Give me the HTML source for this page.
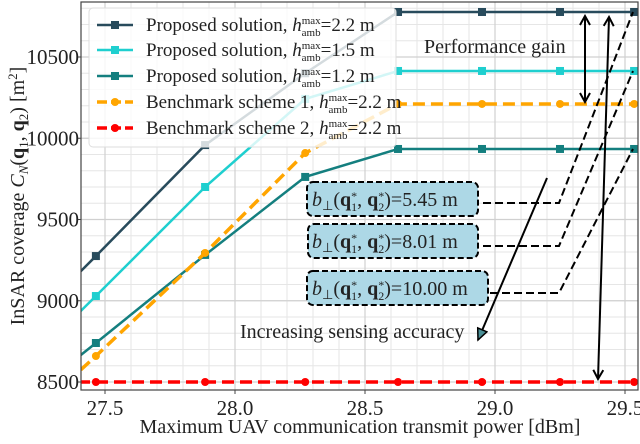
<!DOCTYPE html>
<html><head><meta charset="utf-8"><style>
body{margin:0;background:#fff}
svg text{font-family:"Liberation Serif",serif;fill:#222}
</style></head><body>
<svg id="c" width="640" height="439" xmlns="http://www.w3.org/2000/svg"></svg>
<script>
const xVals=[27.05,27.465,27.885,28.27,28.627,28.95,29.25,29.535];
const sDark=[8608,9275,9958,10400,10777,10777,10777,10777];
const sCyan=[8373,9029,9700,10242,10414,10414,10414,10414];
const sTeal=[8212,8740,9282,9762,9934,9934,9934,9934];
const sOrange=[8050,8660,9294,9909,10211,10211,10211,10211];
const sRed=[8500,8500,8500,8500,8500,8500,8500,8500];
const xTicks=[27.5,28.0,28.5,29.0,29.5];
const yTicks=[8500,9000,9500,10000,10500];
const L=81,R=638,T=2,B=390;
const X=v=>105+(v-27.5)*260;
const Y=v=>382-(v-8500)*0.1625;
const svg=document.getElementById('c');
const NS='http://www.w3.org/2000/svg';
function el(t,a,p){const e=document.createElementNS(NS,t);for(const k in a)e.setAttribute(k,a[k]);(p||svg).appendChild(e);return e;}
const defs=el('defs',{});
const cp=el('clipPath',{id:'clip'},defs);el('rect',{x:L,y:T,width:R-L,height:B-T},cp);
const g=el('g',{'clip-path':'url(#clip)'});

for(let v=27.4;v<=29.56;v+=0.1){const x=X(v);el('line',{x1:x,x2:x,y1:T,y2:B,stroke:'#e6e6e6','stroke-width':1},g);}
for(let v=8400;v<=10900;v+=100){const y=Y(v);el('line',{x1:L,x2:R,y1:y,y2:y,stroke:'#e6e6e6','stroke-width':1},g);}
xTicks.forEach(v=>el('line',{x1:X(v),x2:X(v),y1:T,y2:B,stroke:'#d0d0d0','stroke-width':1.2},g));
yTicks.forEach(v=>el('line',{x1:L,x2:R,y1:Y(v),y2:Y(v),stroke:'#d0d0d0','stroke-width':1.2},g));
const series=[
 {d:sDark,c:'#284b5c',dash:null,m:'sq',n:'series-proposed-2-2'},
 {d:sCyan,c:'#1fcfcf',dash:null,m:'sq',n:'series-proposed-1-5'},
 {d:sTeal,c:'#147f7f',dash:null,m:'sq',n:'series-proposed-1-2'},
 {d:sOrange,c:'#ffa500',dash:'12 6',m:'ci',n:'series-benchmark-1'},
 {d:sRed,c:'#ff0000',dash:'12 6',m:'ci',n:'series-benchmark-2'}];
series.forEach(s=>{
 const sg=el('g',{'clip-path':'url(#clip)'});
 
 const w=s.m==='ci'?3.5:2.5;
 const a={points:s.d.map((v,i)=>X(xVals[i])+','+Y(v)).join(' '),fill:'none',stroke:s.c,'stroke-width':w};
 if(s.dash)a['stroke-dasharray']=s.dash;
 el('polyline',a,sg);
 s.d.forEach((v,i)=>{
  const x=X(xVals[i]),y=Y(v);
  if(s.m==='sq')el('rect',{x:x-4,y:y-4,width:8,height:8,fill:s.c},sg);
  else el('circle',{cx:x,cy:y,r:4,fill:s.c},sg);
 });
});
el('rect',{x:L,y:T,width:R-L,height:B-T,fill:'none',stroke:'#444','stroke-width':1.2});
xTicks.forEach(v=>{el('line',{x1:X(v),x2:X(v),y1:B,y2:B+4,stroke:'#444'});
 const t=el('text',{x:X(v),y:B+25,'font-size':21,'text-anchor':'middle'});t.textContent=v.toFixed(1);
 });
yTicks.forEach(v=>{el('line',{x1:L-4,x2:L,y1:Y(v),y2:Y(v),stroke:'#444'});
 const t=el('text',{x:L-2,y:Y(v)+7,'font-size':21,'text-anchor':'end'});t.textContent=v;
 });
</script>
<svg style="position:absolute;left:0;top:0" width="640" height="439" xmlns="http://www.w3.org/2000/svg">
<defs>
<marker id="ah" markerWidth="12" markerHeight="12" refX="10" refY="6" orient="auto-start-reverse" markerUnits="userSpaceOnUse"><path d="M1,1 L10,6 L1,11" fill="none" stroke="#000" stroke-width="2"/></marker>
<marker id="ah2" markerWidth="14" markerHeight="12" refX="12" refY="6" orient="auto" markerUnits="userSpaceOnUse"><path d="M1,1 L12,6 L1,11 Z" fill="#4a8f96" stroke="#000" stroke-width="1.5"/></marker>
</defs>
<g font-family="Liberation Serif,serif" fill="#222">
<text x="360" y="433" font-size="20" text-anchor="middle">Maximum UAV communication transmit power [dBm]</text>
<text transform="translate(24,196) rotate(-90)" font-size="20" text-anchor="middle">InSAR coverage <tspan font-style="italic">C</tspan><tspan font-size="13" font-style="italic" dy="4">N</tspan><tspan dy="-4">(</tspan><tspan font-weight="bold">q</tspan><tspan font-size="13" dy="4">1</tspan><tspan dy="-4">, </tspan><tspan font-weight="bold">q</tspan><tspan font-size="13" dy="4">2</tspan><tspan dy="-4">) [m</tspan><tspan font-size="13" dy="-7">2</tspan><tspan dy="7">]</tspan></text>
</g>
<g>
<rect x="89" y="8" width="307" height="139" rx="4" fill="#fff" fill-opacity="0.8" stroke="#ddd"/>
<g font-family="Liberation Serif,serif" font-size="19" fill="#222">
<line x1="97" y1="25" x2="133" y2="25" stroke="#284b5c" stroke-width="2.5"/><rect x="111" y="21" width="8" height="8" fill="#284b5c"/>
<text x="146" y="31">Proposed solution, <tspan font-style="italic">h</tspan><tspan font-size="11" dy="-7">max</tspan><tspan font-size="11" dx="-19" dy="12">amb</tspan><tspan dy="-5">=2.2 m</tspan></text>
<line x1="97" y1="50" x2="133" y2="50" stroke="#1fcfcf" stroke-width="2.5"/><rect x="111" y="46" width="8" height="8" fill="#1fcfcf"/>
<text x="146" y="56">Proposed solution, <tspan font-style="italic">h</tspan><tspan font-size="11" dy="-7">max</tspan><tspan font-size="11" dx="-19" dy="12">amb</tspan><tspan dy="-5">=1.5 m</tspan></text>
<line x1="97" y1="76" x2="133" y2="76" stroke="#147f7f" stroke-width="2.5"/><rect x="111" y="72" width="8" height="8" fill="#147f7f"/>
<text x="146" y="82">Proposed solution, <tspan font-style="italic">h</tspan><tspan font-size="11" dy="-7">max</tspan><tspan font-size="11" dx="-19" dy="12">amb</tspan><tspan dy="-5">=1.2 m</tspan></text>
<line x1="97" y1="102" x2="133" y2="102" stroke="#ffa500" stroke-width="3.5" stroke-dasharray="10 4"/><circle cx="115" cy="102" r="4" fill="#ffa500"/>
<text x="146" y="108">Benchmark scheme 1, <tspan font-style="italic">h</tspan><tspan font-size="11" dy="-7">max</tspan><tspan font-size="11" dx="-19" dy="12">amb</tspan><tspan dy="-5">=2.2 m</tspan></text>
<line x1="97" y1="128" x2="133" y2="128" stroke="#ff0000" stroke-width="3.5" stroke-dasharray="10 4"/><circle cx="115" cy="128" r="4" fill="#ff0000"/>
<text x="146" y="134">Benchmark scheme 2, <tspan font-style="italic">h</tspan><tspan font-size="11" dy="-7">max</tspan><tspan font-size="11" dx="-19" dy="12">amb</tspan><tspan dy="-5">=2.2 m</tspan></text>
</g></g>
<g font-family="Liberation Serif,serif" font-size="20" fill="#222">
<polyline points="483,203 559,203 633,12" fill="none" stroke="#000" stroke-width="2" stroke-dasharray="8 4"/>
<polyline points="483,246 559,246 633,71" fill="none" stroke="#000" stroke-width="2" stroke-dasharray="8 4"/>
<polyline points="490,293 559,293 633,149" fill="none" stroke="#000" stroke-width="2" stroke-dasharray="8 4"/>
<rect x="307" y="182" width="171" height="34" rx="6" fill="#add8e6" stroke="#000" stroke-width="2" stroke-dasharray="6 3"/>
<text x="312" y="206"><tspan font-style="italic">b</tspan><tspan font-size="13" dy="4">⊥</tspan><tspan dy="-4">(</tspan><tspan font-weight="bold">q</tspan><tspan font-size="12" dy="-6">*</tspan><tspan font-size="12" dx="-6" dy="11">1</tspan><tspan dy="-5">, </tspan><tspan font-weight="bold">q</tspan><tspan font-size="12" dy="-6">*</tspan><tspan font-size="12" dx="-6" dy="11">2</tspan><tspan dy="-5">)=5.45 m</tspan></text>
<rect x="308" y="224" width="170" height="34" rx="6" fill="#add8e6" stroke="#000" stroke-width="2" stroke-dasharray="6 3"/>
<text x="312" y="248"><tspan font-style="italic">b</tspan><tspan font-size="13" dy="4">⊥</tspan><tspan dy="-4">(</tspan><tspan font-weight="bold">q</tspan><tspan font-size="12" dy="-6">*</tspan><tspan font-size="12" dx="-6" dy="11">1</tspan><tspan dy="-5">, </tspan><tspan font-weight="bold">q</tspan><tspan font-size="12" dy="-6">*</tspan><tspan font-size="12" dx="-6" dy="11">2</tspan><tspan dy="-5">)=8.01 m</tspan></text>
<rect x="307" y="271" width="181" height="34" rx="6" fill="#add8e6" stroke="#000" stroke-width="2" stroke-dasharray="6 3"/>
<text x="312" y="295"><tspan font-style="italic">b</tspan><tspan font-size="13" dy="4">⊥</tspan><tspan dy="-4">(</tspan><tspan font-weight="bold">q</tspan><tspan font-size="12" dy="-6">*</tspan><tspan font-size="12" dx="-6" dy="11">1</tspan><tspan dy="-5">, </tspan><tspan font-weight="bold">q</tspan><tspan font-size="12" dy="-6">*</tspan><tspan font-size="12" dx="-6" dy="11">2</tspan><tspan dy="-5">)=10.00 m</tspan></text>
<line x1="585" y1="16" x2="585" y2="102" stroke="#000" stroke-width="2" marker-start="url(#ah)" marker-end="url(#ah)"/>
<text x="424" y="53">Performance gain</text>
<line x1="609" y1="17" x2="598" y2="379" stroke="#000" stroke-width="2" marker-start="url(#ah)" marker-end="url(#ah)"/>
<line x1="547" y1="178" x2="478" y2="340" stroke="#000" stroke-width="2" marker-end="url(#ah2)"/>
<text x="240" y="338">Increasing sensing accuracy</text>
</g>
</svg>
</body></html>
